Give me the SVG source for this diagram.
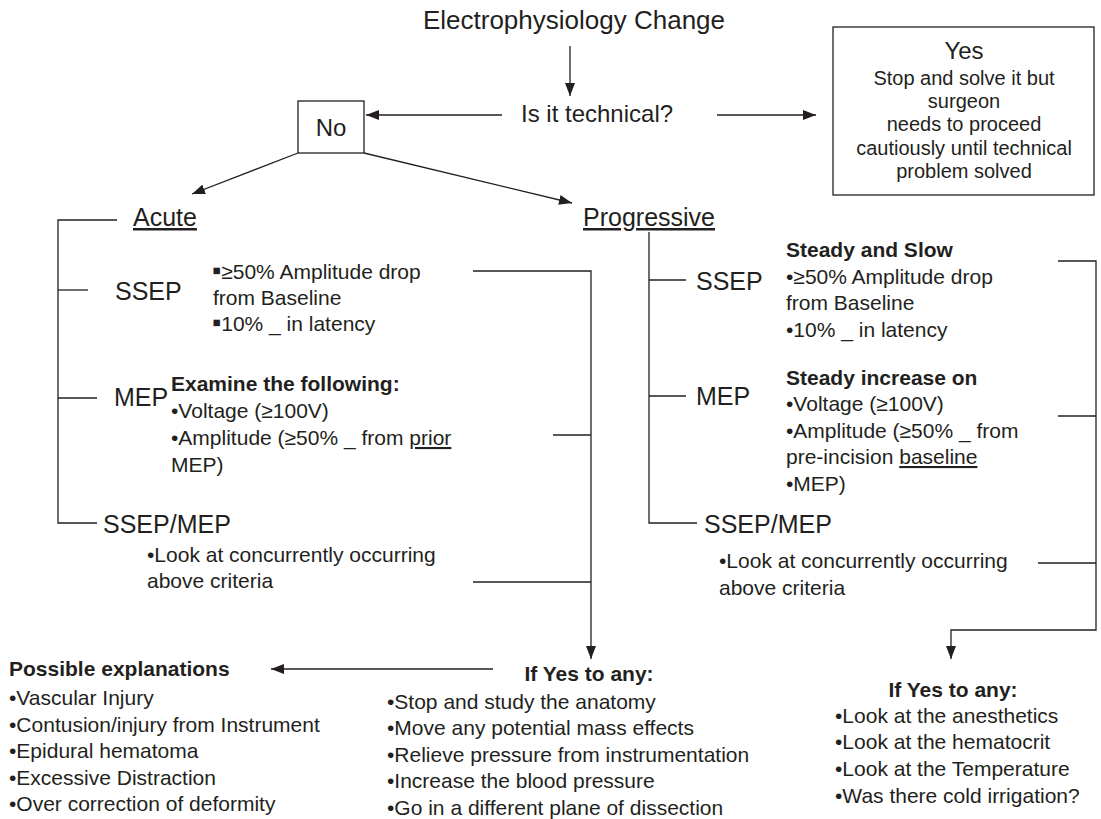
<svg xmlns="http://www.w3.org/2000/svg" width="1101" height="819" viewBox="0 0 1101 819">
<defs>
<style>
text{font-family:"Liberation Sans",Arial,Helvetica,sans-serif;fill:#231f20}
.ttl{font-size:26px}
.lbl{font-size:25px}
.q{font-size:24px}
.body{font-size:21px}
.box{font-size:20px}
.b{font-weight:bold}
.u{text-decoration:underline}
.sq{font-size:26px}
.ln{fill:none;stroke:#231f20;stroke-width:1.3}
.arr{fill:none;stroke:#231f20;stroke-width:1.3;marker-end:url(#ah)}
.nb{fill:#fff;stroke:#231f20;stroke-width:1.3}
</style>
<marker id="ah" markerUnits="userSpaceOnUse" markerWidth="13" markerHeight="10" viewBox="0 0 13 10" refX="13" refY="5" orient="auto">
<path d="M0,0 L13,5 L0,10 z" fill="#231f20"/>
</marker>
</defs>
<rect width="1101" height="819" fill="#fff"/>

<g id="connectors">
<path class="arr" d="M570,46 V96"/>
<path class="arr" d="M502,115 H366"/>
<path class="arr" d="M717,115 H816"/>
<path class="arr" d="M298,153 L192,194"/>
<path class="arr" d="M364,153 L572,203"/>
<path class="ln" d="M117,220 H58 V523 H97"/>
<path class="ln" d="M58,290 H88"/>
<path class="ln" d="M58,398 H97"/>
<path class="ln" d="M649,232 V523 H697"/>
<path class="ln" d="M649,280 H686"/>
<path class="ln" d="M649,396 H686"/>
<path class="arr" d="M473,271 H591 V659"/>
<path class="ln" d="M553,435 H591"/>
<path class="ln" d="M473,582 H591"/>
<path class="arr" d="M1058,261 H1096 V630 H951 V659"/>
<path class="ln" d="M1058,416 H1096"/>
<path class="ln" d="M1038,563 H1096"/>
<path class="arr" d="M493,669 H271"/>
</g>

<g id="start">
<text class="ttl" x="574" y="29" text-anchor="middle">Electrophysiology Change</text>
</g>
<g id="technical">
<text class="q" x="521" y="122">Is it technical?</text>
</g>
<g id="no">
<rect class="nb" x="298" y="101" width="66" height="52"/>
<text class="q" x="331" y="136" text-anchor="middle">No</text>
</g>
<g id="yes">
<rect class="nb" x="833" y="27" width="261" height="168"/>
<text class="q" x="964" y="59" text-anchor="middle">Yes</text>
<text class="box" x="964" y="85" text-anchor="middle">Stop and solve it but</text>
<text class="box" x="964" y="108" text-anchor="middle">surgeon</text>
<text class="box" x="964" y="131" text-anchor="middle">needs to proceed</text>
<text class="box" x="964" y="155" text-anchor="middle">cautiously until technical</text>
<text class="box" x="964" y="178" text-anchor="middle">problem solved</text>
</g>

<g id="acute">
<text class="lbl u" x="133" y="226">Acute</text>
</g>
<g id="acute-ssep">
<text class="lbl" x="115" y="300">SSEP</text>
<text class="body" x="212" y="279"><tspan class="sq">▪</tspan>≥50% Amplitude drop</text>
<text class="body" x="213" y="305">from Baseline</text>
<text class="body" x="212" y="331"><tspan class="sq">▪</tspan>10% _ in latency</text>
</g>
<g id="acute-mep">
<text class="lbl" x="114" y="406">MEP</text>
<text class="body b" x="171" y="391">Examine the following:</text>
<text class="body" x="171" y="418">•Voltage (≥100V)</text>
<text class="body" x="171" y="445">•Amplitude (≥50% _ from <tspan class="u">prior</tspan></text>
<text class="body" x="171" y="472">MEP)</text>
</g>
<g id="acute-both">
<text class="lbl" x="103" y="533">SSEP/MEP</text>
<text class="body" x="147" y="562">•Look at concurrently occurring</text>
<text class="body" x="147" y="588">above criteria</text>
</g>

<g id="progressive">
<text class="lbl u" x="583" y="226">Progressive</text>
</g>
<g id="prog-ssep">
<text class="lbl" x="696" y="290">SSEP</text>
<text class="body b" x="786" y="257">Steady and Slow</text>
<text class="body" x="786" y="284">•≥50% Amplitude drop</text>
<text class="body" x="786" y="310">from Baseline</text>
<text class="body" x="786" y="337">•10% _ in latency</text>
</g>
<g id="prog-mep">
<text class="lbl" x="696" y="405">MEP</text>
<text class="body b" x="786" y="385">Steady increase on</text>
<text class="body" x="786" y="411">•Voltage (≥100V)</text>
<text class="body" x="786" y="438">•Amplitude (≥50% _ from</text>
<text class="body" x="786" y="464">pre-incision <tspan class="u">baseline</tspan></text>
<text class="body" x="786" y="491">•MEP)</text>
</g>
<g id="prog-both">
<text class="lbl" x="704" y="533">SSEP/MEP</text>
<text class="body" x="719" y="568">•Look at concurrently occurring</text>
<text class="body" x="719" y="595">above criteria</text>
</g>

<g id="explanations">
<text class="body b" x="9" y="676">Possible explanations</text>
<text class="body" x="9" y="705">•Vascular Injury</text>
<text class="body" x="9" y="732">•Contusion/injury from Instrument</text>
<text class="body" x="9" y="758">•Epidural hematoma</text>
<text class="body" x="9" y="785">•Excessive Distraction</text>
<text class="body" x="9" y="811">•Over correction of deformity</text>
</g>
<g id="acute-actions">
<text class="body b" x="589" y="681" text-anchor="middle">If Yes to any:</text>
<text class="body" x="387" y="709">•Stop and study the anatomy</text>
<text class="body" x="387" y="735">•Move any potential mass effects</text>
<text class="body" x="387" y="762">•Relieve pressure from instrumentation</text>
<text class="body" x="387" y="788">•Increase the blood pressure</text>
<text class="body" x="387" y="815">•Go in a different plane of dissection</text>
</g>
<g id="prog-actions">
<text class="body b" x="953" y="697" text-anchor="middle">If Yes to any:</text>
<text class="body" x="835" y="723">•Look at the anesthetics</text>
<text class="body" x="835" y="749">•Look at the hematocrit</text>
<text class="body" x="835" y="776">•Look at the Temperature</text>
<text class="body" x="835" y="803">•Was there cold irrigation?</text>
</g>
</svg>
